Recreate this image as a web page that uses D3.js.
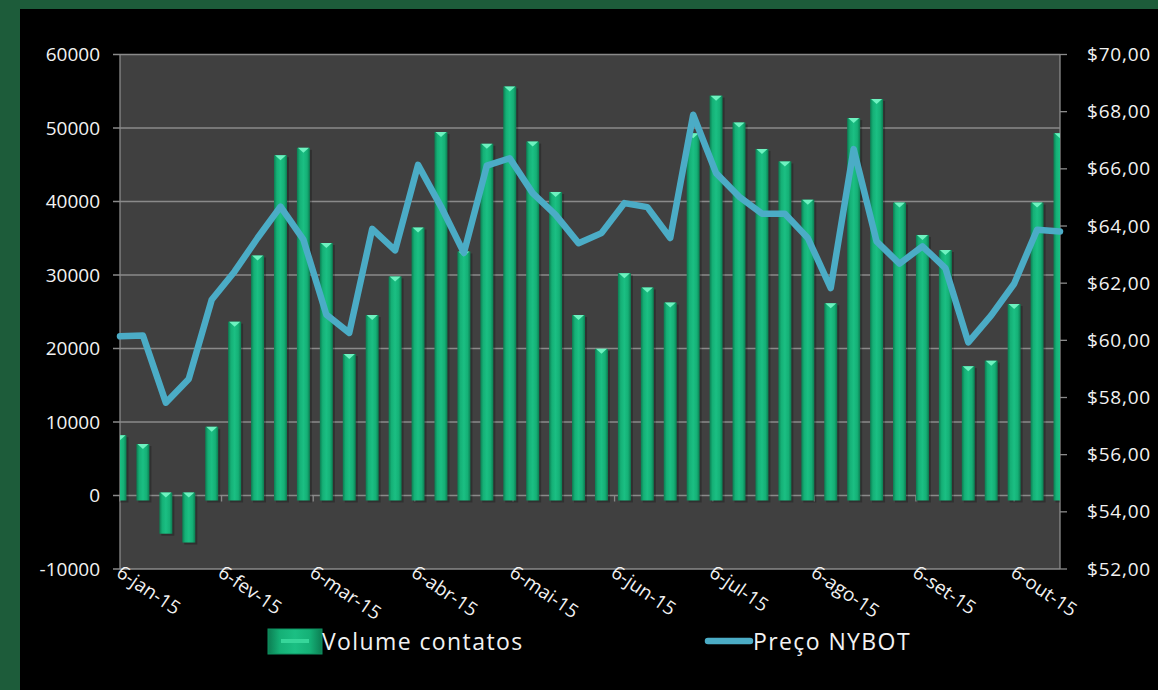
<!DOCTYPE html>
<html>
<head>
<meta charset="utf-8">
<script src="https://cdn.jsdelivr.net/npm/d3@7"></script>
<style>
  body { margin: 0; background: #1d5c3a; }
  svg { display: block; }
  text { font-family: "Open Sans", sans-serif; fill: #f2f2f2; }
</style>
</head>
<body>
<div id="chart"></div>
<script>
// weekly points
var weeks = ["2015-01-06", "2015-01-13", "2015-01-20", "2015-01-27",
  "2015-02-03", "2015-02-10", "2015-02-17", "2015-02-24",
  "2015-03-03", "2015-03-10", "2015-03-17", "2015-03-24", "2015-03-31",
  "2015-04-07", "2015-04-14", "2015-04-21", "2015-04-28",
  "2015-05-05", "2015-05-12", "2015-05-19", "2015-05-26",
  "2015-06-02", "2015-06-09", "2015-06-16", "2015-06-23", "2015-06-30",
  "2015-07-07", "2015-07-14", "2015-07-21", "2015-07-28",
  "2015-08-04", "2015-08-11", "2015-08-18", "2015-08-25",
  "2015-09-01", "2015-09-08", "2015-09-15", "2015-09-22", "2015-09-29",
  "2015-10-06", "2015-10-13", "2015-10-20"];

var volume = [8200, 7000, -5200, -6400, 9350, 23650, 32650, 46300, 47300, 34350,
  19250, 24550, 29800, 36450, 49450, 33200, 47850, 55650, 48150, 41300,
  24550, 19950, 30250, 28300, 26250, 49300, 54400, 50750, 47150, 45450,
  40250, 26150, 51350, 53950, 39850, 35450, 33400, 17600, 18350, 26050,
  39850, 49300];

var price = [60.14, 60.17, 57.82, 58.65, 61.42, 62.41, 63.58, 64.68, 63.52, 60.90,
  60.26, 63.90, 63.15, 66.14, 64.68, 63.06, 66.11, 66.37, 65.15, 64.39,
  63.40, 63.75, 64.80, 64.66, 63.58, 67.89, 65.85, 65.03, 64.43, 64.43,
  63.58, 61.83, 66.69, 63.46, 62.68, 63.29, 62.53, 59.93, 60.87, 61.98,
  63.87, 63.81];

var monthTicks = ["2015-01-06", "2015-02-06", "2015-03-06", "2015-04-06", "2015-05-06",
  "2015-06-06", "2015-07-06", "2015-08-06", "2015-09-06", "2015-10-06"];
var monthLabels = ["6-jan-15", "6-fev-15", "6-mar-15", "6-abr-15", "6-mai-15",
  "6-jun-15", "6-jul-15", "6-ago-15", "6-set-15", "6-out-15"];

var volumeTicks = [-10000, 0, 10000, 20000, 30000, 40000, 50000, 60000];
var priceTicks = [52, 54, 56, 58, 60, 62, 64, 66, 68, 70];

var seriesNames = ["Volume contatos", "Preço NYBOT"];

var width = 1158, height = 690;
var plotLeft = 120, plotRight = 1060, plotTop = 54.5, plotBottom = 569;
var parse = d3.timeParse("%Y-%m-%d");

var svg = d3.select("#chart").append("svg").attr("width", width).attr("height", height);

// black panel inside the green frame
svg.append("rect").attr("x", 20).attr("y", 9).attr("width", width - 20).attr("height", height - 9).attr("fill", "#000");

var x = d3.scaleTime().domain([parse(weeks[0]), parse(weeks[weeks.length - 1])]).range([plotLeft, plotRight]);
var y = d3.scaleLinear().domain([-10000, 60000]).range([plotBottom, plotTop]);
var y2 = d3.scaleLinear().domain([52, 70]).range([plotBottom, plotTop]);

var defs = svg.append("defs");
defs.append("clipPath").attr("id", "plotClip")
  .append("rect").attr("x", plotLeft).attr("y", plotTop).attr("width", plotRight - plotLeft).attr("height", plotBottom - plotTop);

var grad = defs.append("linearGradient").attr("id", "barGrad").attr("x1", "0%").attr("x2", "100%");
grad.append("stop").attr("offset", "0%").attr("stop-color", "#0c7d52");
grad.append("stop").attr("offset", "22%").attr("stop-color", "#15b076");
grad.append("stop").attr("offset", "50%").attr("stop-color", "#1bbf83");
grad.append("stop").attr("offset", "78%").attr("stop-color", "#15b076");
grad.append("stop").attr("offset", "100%").attr("stop-color", "#0c7d52");

// plot area
svg.append("rect").attr("x", plotLeft).attr("y", plotTop).attr("width", plotRight - plotLeft).attr("height", plotBottom - plotTop).attr("fill", "#404040");

// gridlines
svg.append("g").selectAll("line").data(volumeTicks).enter().append("line")
  .attr("x1", plotLeft - 7).attr("x2", plotRight)
  .attr("y1", function(d) { return y(d); }).attr("y2", function(d) { return y(d); })
  .attr("stroke", "#8a8a8a").attr("stroke-width", 1.3);

// axis lines
svg.append("line").attr("x1", plotLeft).attr("x2", plotLeft).attr("y1", plotTop).attr("y2", plotBottom).attr("stroke", "#8a8a8a").attr("stroke-width", 1.3);
svg.append("line").attr("x1", plotRight).attr("x2", plotRight).attr("y1", plotTop).attr("y2", plotBottom).attr("stroke", "#8a8a8a").attr("stroke-width", 1.3);
svg.append("g").selectAll("line").data(priceTicks).enter().append("line")
  .attr("x1", plotRight).attr("x2", plotRight + 7)
  .attr("y1", function(d) { return y2(d); }).attr("y2", function(d) { return y2(d); })
  .attr("stroke", "#8a8a8a").attr("stroke-width", 1.3);

// small month ticks on the zero line
svg.append("g").selectAll("line").data(monthTicks).enter().append("line")
  .attr("x1", function(d) { return x(parse(d)); }).attr("x2", function(d) { return x(parse(d)); })
  .attr("y1", y(0)).attr("y2", y(0) + 6)
  .attr("stroke", "#8a8a8a").attr("stroke-width", 1.3);

// bars
var barW = 13;
var bars = svg.append("g").attr("clip-path", "url(#plotClip)");
var barG = bars.selectAll("g").data(volume).enter().append("g");

barG.append("rect")
  .attr("x", function(d, i) { return x(parse(weeks[i])) - barW / 2 + 2; })
  .attr("y", function(d) { return d >= 0 ? y(d) + 2 : y(0) - 1; })
  .attr("width", barW)
  .attr("height", function(d) { return d >= 0 ? y(0) + 5 - y(d) : y(d) - y(0) + 3; })
  .attr("fill", "#000").attr("opacity", 0.25);

barG.append("rect")
  .attr("x", function(d, i) { return x(parse(weeks[i])) - barW / 2; })
  .attr("y", function(d) { return d >= 0 ? y(d) : y(0) - 3; })
  .attr("width", barW)
  .attr("height", function(d) { return d >= 0 ? y(0) + 5 - y(d) : y(d) - y(0) + 3; })
  .attr("fill", "url(#barGrad)");

barG.append("path")
  .attr("d", function(d, i) {
    var cx = x(parse(weeks[i]));
    var t = d >= 0 ? y(d) : y(0) - 3;
    return "M" + (cx - barW / 2 + 1) + "," + t + "L" + (cx + barW / 2 - 1) + "," + t + "L" + cx + "," + (t + 5) + "Z";
  })
  .attr("fill", "#6ef2c0");

// price line
var line = d3.line()
  .x(function(d, i) { return x(parse(weeks[i])); })
  .y(function(d) { return y2(d); });

svg.append("path").datum(price)
  .attr("d", line)
  .attr("fill", "none")
  .attr("stroke", "#4bacc6")
  .attr("stroke-width", 6.5)
  .attr("stroke-linejoin", "round")
  .attr("stroke-linecap", "round");

// left labels
svg.append("g").selectAll("text").data(volumeTicks).enter().append("text")
  .attr("x", 100).attr("y", function(d) { return y(d); })
  .attr("dy", "0.35em").attr("text-anchor", "end")
  .style("font-size", "19px")
  .text(function(d) { return d; });

// right labels
svg.append("g").selectAll("text").data(priceTicks).enter().append("text")
  .attr("x", 1087).attr("y", function(d) { return y2(d); })
  .attr("dy", "0.35em").attr("text-anchor", "start")
  .style("font-size", "19px").style("letter-spacing", "0.8px")
  .text(function(d) { return "$" + d3.format(".2f")(d).replace(".", ","); });

// month labels
svg.append("g").selectAll("text").data(monthTicks).enter().append("text")
  .attr("transform", function(d) { return "translate(" + (x(parse(d)) - 1) + "," + (plotBottom + 1) + ") rotate(34)"; })
  .attr("dy", "0.35em")
  .style("font-size", "19px")
  .text(function(d, i) { return monthLabels[i]; });

// legend
var lg = svg.append("g");
lg.append("rect").attr("x", 268).attr("y", 629).attr("width", 54).attr("height", 25).attr("fill", "url(#barGrad)");
lg.append("rect").attr("x", 268).attr("y", 629).attr("width", 54).attr("height", 25).attr("fill", "none").attr("stroke", "#0e9060").attr("stroke-width", 1);
lg.append("rect").attr("x", 281).attr("y", 639).attr("width", 28).attr("height", 4).attr("fill", "#36d69a");
lg.append("text").attr("x", 322).attr("y", 642).attr("dy", "0.35em")
  .style("font-size", "23px").style("letter-spacing", "1.4px").text(seriesNames[0]);

lg.append("line").attr("x1", 708).attr("x2", 750).attr("y1", 641).attr("y2", 641)
  .attr("stroke", "#4bacc6").attr("stroke-width", 6.5).attr("stroke-linecap", "round");
lg.append("text").attr("x", 753).attr("y", 642).attr("dy", "0.35em")
  .style("font-size", "23px").style("letter-spacing", "1.4px").text(seriesNames[1]);
</script>
</body>
</html>
